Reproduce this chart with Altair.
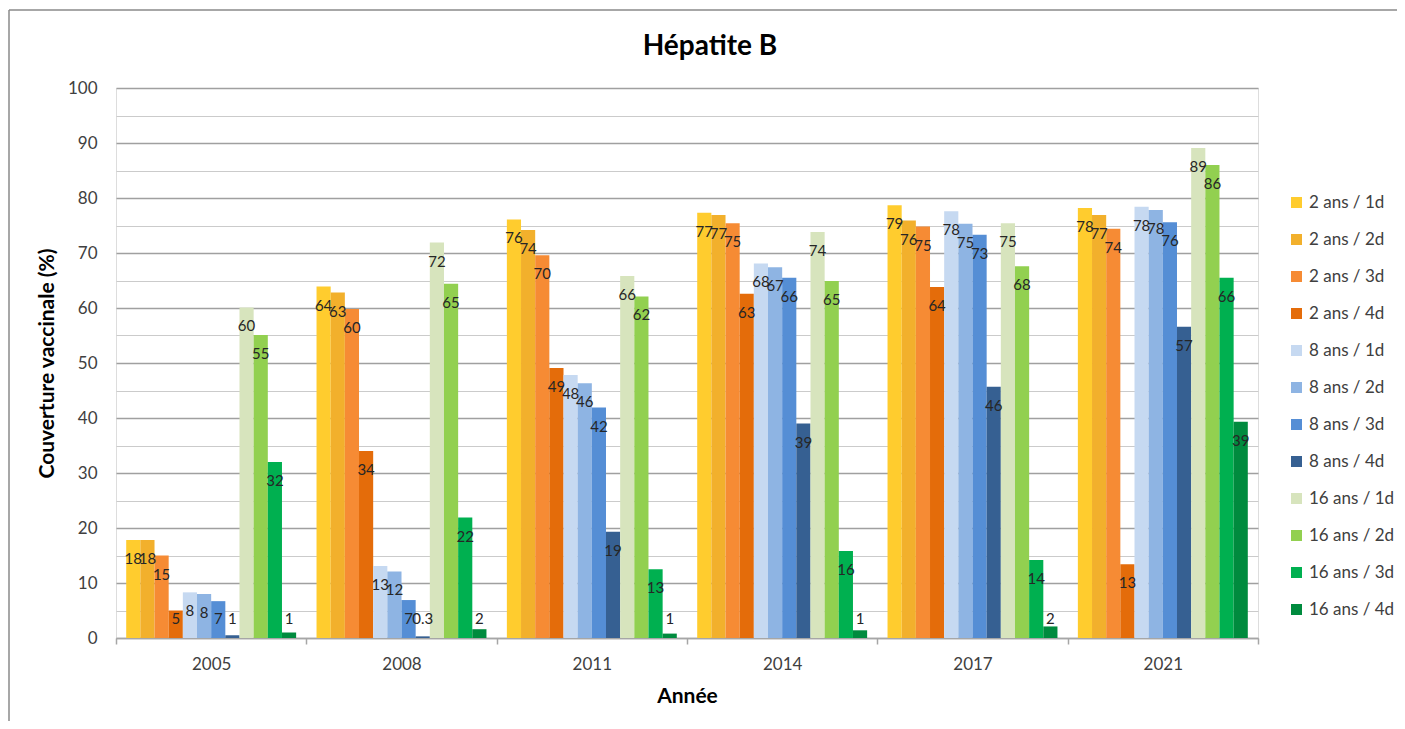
import altair as alt
import pandas as pd

years = ["2005", "2008", "2011", "2014", "2017", "2021"]

series = [
    "2 ans / 1d", "2 ans / 2d", "2 ans / 3d", "2 ans / 4d",
    "8 ans / 1d", "8 ans / 2d", "8 ans / 3d", "8 ans / 4d",
    "16 ans / 1d", "16 ans / 2d", "16 ans / 3d", "16 ans / 4d",
]

colors = [
    "#ffcc2e", "#f2b02c", "#f68b34", "#e46c0a",
    "#c6d9f1", "#8eb4e3", "#558ed5", "#366092",
    "#d7e4bd", "#92d050", "#00b050", "#008b3e",
]

chart_title = "Hépatite B"

# bar heights (%) per series, in the order of `years`
v_2a_1d = [17.8, 63.9, 76.1, 77.3, 78.7, 78.2]
v_2a_2d = [17.8, 62.8, 74.2, 76.9, 75.9, 76.9]
v_2a_3d = [15.0, 59.8, 69.6, 75.4, 74.8, 74.4]
v_2a_4d = [5.0, 34.0, 49.1, 62.6, 63.8, 13.4]
v_8a_1d = [8.3, 13.1, 47.8, 68.1, 77.6, 78.4]
v_8a_2d = [8.0, 12.1, 46.3, 67.4, 75.3, 77.8]
v_8a_3d = [6.7, 6.9, 41.9, 65.5, 73.3, 75.6]
v_8a_4d = [0.5, 0.3, 19.3, 39.0, 45.7, 56.6]
v_16a_1d = [60.1, 71.9, 65.8, 73.8, 75.4, 89.1]
v_16a_2d = [55.1, 64.4, 62.1, 64.9, 67.6, 86.0]
v_16a_3d = [32.0, 21.9, 12.5, 15.8, 14.2, 65.5]
v_16a_4d = [1.0, 1.6, 0.8, 1.4, 2.1, 39.3]

# data labels as printed on the chart
l_2a_1d = ["18", "64", "76", "77", "79", "78"]
l_2a_2d = ["18", "63", "74", "77", "76", "77"]
l_2a_3d = ["15", "60", "70", "75", "75", "74"]
l_2a_4d = ["5", "34", "49", "63", "64", "13"]
l_8a_1d = ["8", "13", "48", "68", "78", "78"]
l_8a_2d = ["8", "12", "46", "67", "75", "78"]
l_8a_3d = ["7", "7", "42", "66", "73", "76"]
l_8a_4d = ["1", "0.3", "19", "39", "46", "57"]
l_16a_1d = ["60", "72", "66", "74", "75", "89"]
l_16a_2d = ["55", "65", "62", "65", "68", "86"]
l_16a_3d = ["32", "22", "13", "16", "14", "66"]
l_16a_4d = ["1", "2", "1", "1", "2", "39"]

all_values = [v_2a_1d, v_2a_2d, v_2a_3d, v_2a_4d, v_8a_1d, v_8a_2d,
              v_8a_3d, v_8a_4d, v_16a_1d, v_16a_2d, v_16a_3d, v_16a_4d]
all_labels = [l_2a_1d, l_2a_2d, l_2a_3d, l_2a_4d, l_8a_1d, l_8a_2d,
              l_8a_3d, l_8a_4d, l_16a_1d, l_16a_2d, l_16a_3d, l_16a_4d]

rows = []
for s, vals, labs in zip(series, all_values, all_labels):
    for y, v, l in zip(years, vals, labs):
        rows.append({"Année": y, "Série": s, "Valeur": v, "Label": l})
df = pd.DataFrame(rows)

FONT = "Lato"
TXT = "#404040"

x_enc = alt.X(
    "Année:N", sort=years,
    scale=alt.Scale(paddingInner=0, paddingOuter=0),
    axis=alt.Axis(
        title="Année", titleFont=FONT, titleFontSize=21, titleFontWeight="bold",
        titleColor="#000000", titlePadding=13,
        labelFont=FONT, labelFontSize=17, labelColor=TXT, labelAngle=0,
        labelPadding=12, grid=False, domain=True, domainColor="#a6a6a6",
        domainWidth=1.5, ticks=True, tickBand="extent", tickSize=6,
        tickColor="#a6a6a6", tickWidth=1.5,
    ),
)
xo_enc = alt.XOffset(
    "Série:N", sort=series,
    scale=alt.Scale(paddingInner=0, paddingOuter=0.72),
)
y_axis = alt.Axis(
    title="Couverture vaccinale (%)", titleFont=FONT, titleFontSize=21,
    titleFontWeight="bold", titleColor="#000000", titlePadding=10,
    values=list(range(0, 101, 5)),
    labelExpr="datum.value % 10 === 0 ? datum.label : ''",
    labelFont=FONT, labelFontSize=17, labelColor=TXT, labelPadding=19,
    domain=False, ticks=False, grid=True,
    gridColor={"condition": {"test": "datum.value % 10 === 0", "value": "#a0a0a0"},
               "value": "#cbcbcb"},
    gridWidth={"condition": {"test": "datum.value % 10 === 0", "value": 1.6},
               "value": 1.2},
)
y_scale = alt.Scale(domain=[0, 100], nice=False)

bars = alt.Chart(df).mark_bar(strokeWidth=0).encode(
    x=x_enc,
    xOffset=xo_enc,
    y=alt.Y("Valeur:Q", scale=y_scale, axis=y_axis),
    color=alt.Color(
        "Série:N", sort=series,
        scale=alt.Scale(domain=series, range=colors),
        legend=alt.Legend(
            title=None, orient="none", legendX=1172, legendY=106,
            symbolType="square", symbolSize=121, symbolStrokeWidth=0,
            labelFont=FONT, labelFontSize=17, labelColor=TXT,
            labelOffset=4, rowPadding=19, padding=0,
        ),
    ),
)

labels = alt.Chart(df).transform_calculate(
    ly="max(datum.Valeur, 6.9)"
).mark_text(
    baseline="middle", align="center", dy=19, font=FONT, fontSize=15,
    color="#262626",
).encode(
    x=x_enc,
    xOffset=xo_enc,
    y=alt.Y("ly:Q", scale=y_scale, axis=y_axis),
    text="Label:N",
)

frame_data = alt.Data(values=[{}])
frame_top = alt.Chart(frame_data).mark_rule(
    stroke="#8a8a8a", strokeWidth=1.5
).encode(
    x=alt.value(-107), x2=alt.value(1281), y=alt.value(-78),
)
frame_left = alt.Chart(frame_data).mark_rule(
    stroke="#8a8a8a", strokeWidth=1.5
).encode(
    x=alt.value(-107), y=alt.value(-78), y2=alt.value(633),
)

title_mark = alt.Chart(alt.Data(values=[{"t": chart_title}])).mark_text(
    font=FONT, fontSize=28, fontWeight="bold", color="#000000",
    align="center", baseline="alphabetic",
).encode(
    x=alt.value(594), y=alt.value(-33), text="t:N",
)

chart = alt.layer(frame_top, frame_left, bars, labels, title_mark).properties(
    width=1142,
    height=550,
    autosize=alt.AutoSizeParams(type="none"),
    padding={"left": 108, "top": 80, "right": 139, "bottom": 83},
).configure_view(
    fill="#f2f2f2", stroke="transparent"
).configure(
    background="#ffffff", font=FONT
)

chart.save("out.html", embed_options={"renderer": "svg", "actions": False})
